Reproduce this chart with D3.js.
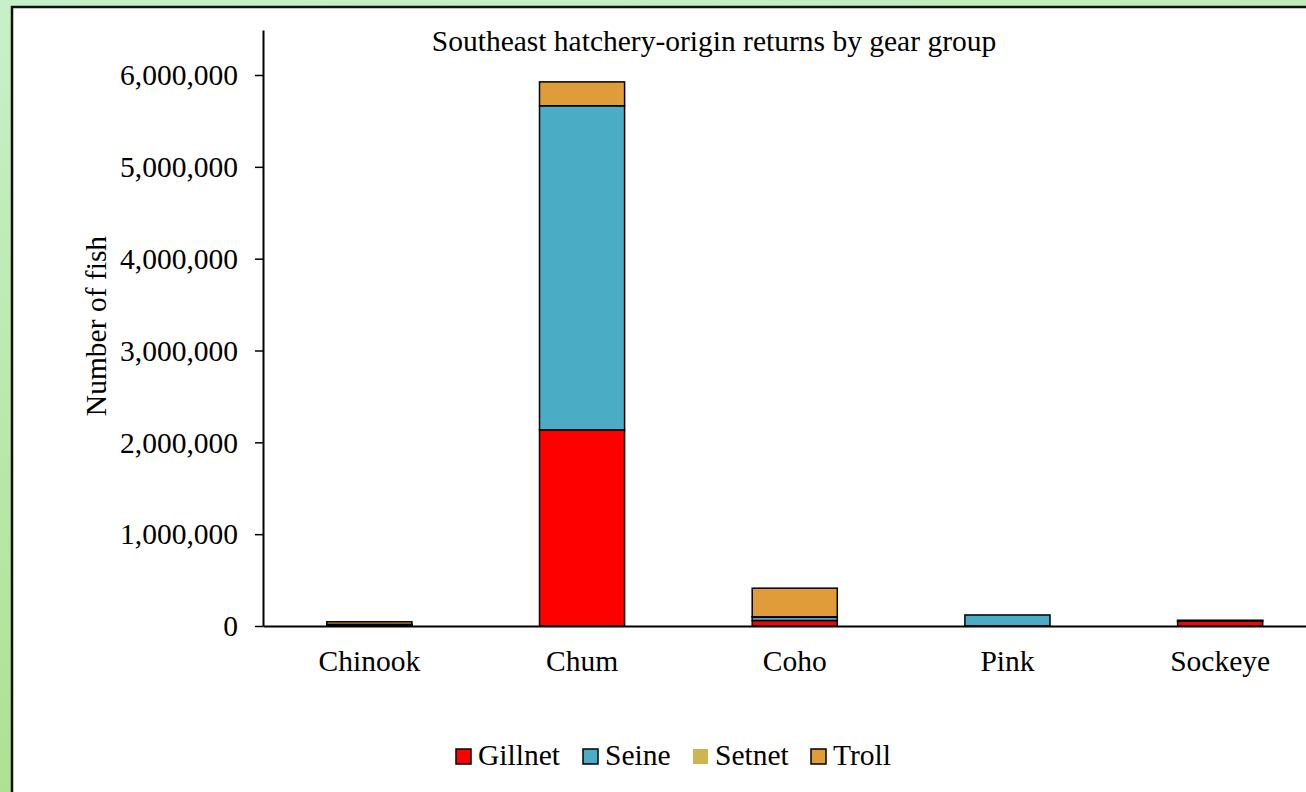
<!DOCTYPE html>
<html>
<head>
<meta charset="utf-8">
<script src="https://cdn.jsdelivr.net/npm/d3@7"></script>
<style>
html,body{margin:0;padding:0;overflow:hidden;}
svg{display:block;}
</style>
</head>
<body>
<svg id="chart" width="1306" height="792"></svg>
<script>
const categories = ["Chinook", "Chum", "Coho", "Pink", "Sockeye"];
const gears = ["Gillnet", "Seine", "Setnet", "Troll"];
const gillnet = [8000, 2135000, 60000, 0, 52000];
const seine   = [8000, 3530000, 38000, 120000, 8000];
const setnet  = [2000, 0, 2000, 0, 1000];
const troll   = [28000, 260000, 312000, 0, 0];
const yTicks = [0, 1000000, 2000000, 3000000, 4000000, 5000000, 6000000];
const colors = ["#ff0000", "#4bacc6", "#cdb652", "#e09c38"];
const title = "Southeast hatchery-origin returns by gear group";
const yTitle = "Number of fish";

const svg = d3.select("#chart");
const font = "'Liberation Serif','Times New Roman',serif";
const fs = 29.5;

// background gradient
const defs = svg.append("defs");
const grad = defs.append("linearGradient").attr("id","bg").attr("x1","0").attr("y1","0").attr("x2","0.25").attr("y2","1");
grad.append("stop").attr("offset","0").attr("stop-color","#c9efca");
grad.append("stop").attr("offset","1").attr("stop-color","#aee08e");
svg.append("rect").attr("width",1306).attr("height",792).attr("fill","url(#bg)");
// frame
svg.append("rect").attr("x",12).attr("y",7).attr("width",1310).attr("height",800)
  .attr("fill","#fff").attr("stroke","#111").attr("stroke-width",2.5);

const table = categories.map((c,i)=>({cat:c, Gillnet:gillnet[i], Seine:seine[i], Setnet:setnet[i], Troll:troll[i]}));
const stacked = d3.stack().keys(gears)(table);

const x = d3.scaleBand().domain(categories).range([263, 1326.5]).paddingInner(0.6).paddingOuter(0.3);
const y = d3.scaleLinear().domain([0, 6490000]).range([626, 30]);

// bars
const g = svg.append("g");
stacked.forEach((layer, li) => {
  g.append("g").selectAll("rect").data(layer).join("rect")
    .attr("x", d => x(d.data.cat))
    .attr("width", x.bandwidth())
    .attr("y", d => y(d[1]))
    .attr("height", d => Math.max(0, y(d[0]) - y(d[1])))
    .attr("fill", colors[li])
    .attr("stroke", d => (d[1]-d[0])>0 ? "#000" : "none")
    .attr("stroke-width", 1.5);
});

// y axis
const yAxis = svg.append("g").attr("transform","translate(263,0)")
  .call(d3.axisLeft(y).tickValues(yTicks).tickFormat(d3.format(",")).tickSize(8).tickSizeOuter(0));
yAxis.select(".domain").attr("stroke","#000").attr("stroke-width",2);
yAxis.selectAll(".tick line").attr("stroke","#000").attr("stroke-width",1.5);
yAxis.selectAll(".tick text").attr("font-family",font).attr("font-size",fs).attr("fill","#000").attr("x",-25).attr("dy","0.33em");

// x axis
const xAxis = svg.append("g").attr("transform","translate(0,626)")
  .call(d3.axisBottom(x).tickSize(0).tickSizeOuter(0));
xAxis.select(".domain").attr("stroke","#000").attr("stroke-width",2);
xAxis.selectAll(".tick text").attr("font-family",font).attr("font-size",fs).attr("fill","#000").attr("dy",0).attr("y",45);

// title
svg.append("text").attr("x",714).attr("y",51).attr("text-anchor","middle")
  .attr("font-family",font).attr("font-size",fs).attr("fill","#000").text(title);
// y title
svg.append("text").attr("transform","translate(106,326) rotate(-90)").attr("text-anchor","middle")
  .attr("font-family",font).attr("font-size",fs).attr("fill","#000").text(yTitle);

// legend
const legX = [456, 583, 693, 811];
const leg = svg.append("g");
gears.forEach((k,i)=>{
  leg.append("rect").attr("x",legX[i]).attr("y",749).attr("width",15).attr("height",15)
    .attr("fill",colors[i]).attr("stroke", k==="Setnet" ? "none" : "#000").attr("stroke-width",1.5);
  leg.append("text").attr("x",legX[i]+22).attr("y",765).attr("font-family",font).attr("font-size",fs)
    .attr("fill","#000").text(k);
});
</script>
</body>
</html>
